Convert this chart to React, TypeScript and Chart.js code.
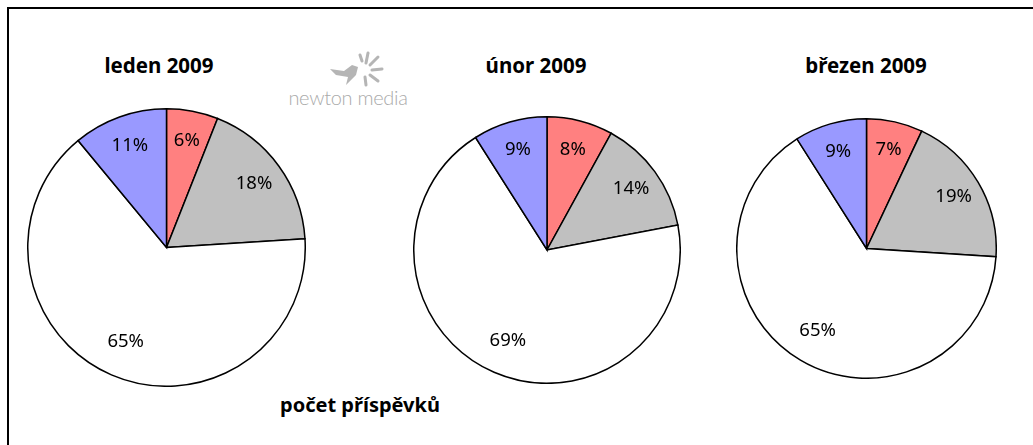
import React, { useEffect, useRef } from "react";
import { Chart, registerables } from "chart.js";

Chart.register(...registerables);

const categories = ["A", "B", "C", "D"];
const months = ["leden 2009", "únor 2009", "březen 2009"];
const janValues = [6, 18, 65, 11];
const febValues = [8, 14, 69, 9];
const marValues = [7, 19, 65, 9];
const sliceColors = ["#FF8080", "#C0C0C0", "#FFFFFF", "#9999FF"];
const footerText = "počet příspěvků";

const labelPlugin = {
  id: "pctLabels",
  afterDatasetsDraw(chart: any) {
    const ctx = chart.ctx;
    const meta = chart.getDatasetMeta(0);
    const data = chart.data.datasets[0].data as number[];
    const total = data.reduce((a: number, b: number) => a + b, 0);
    ctx.save();
    ctx.font = "18.5px 'Noto Sans'";
    ctx.fillStyle = "#000";
    ctx.textAlign = "center";
    ctx.textBaseline = "middle";
    meta.data.forEach((arc: any, i: number) => {
      const p = arc.getProps(["startAngle", "endAngle", "outerRadius", "x", "y"], true);
      const mid = (p.startAngle + p.endAngle) / 2;
      const big = data[i] / total > 0.5;
      const r = p.outerRadius * (big ? 0.74 : 0.78);
      const x = p.x + Math.cos(mid) * r;
      const y = p.y + Math.sin(mid) * r;
      ctx.fillText(Math.round((data[i] / total) * 100) + "%", x, y);
    });
    ctx.restore();
  },
};

function Pie({ values, left, top, size }: { values: number[]; left: number; top: number; size: number }) {
  const ref = useRef<HTMLCanvasElement | null>(null);
  useEffect(() => {
    if (!ref.current) return;
    const chart = new Chart(ref.current, {
      type: "pie",
      data: {
        labels: categories,
        datasets: [
          {
            data: values,
            backgroundColor: sliceColors,
            borderColor: "#000",
            borderWidth: 1.5,
            borderJoinStyle: "miter" as any,
          },
        ],
      },
      options: {
        responsive: false,
        animation: false,
        layout: { padding: 0 },
        plugins: { legend: { display: false }, tooltip: { enabled: false }, title: { display: false } },
      },
      plugins: [labelPlugin],
    });
    return () => chart.destroy();
  }, [values]);
  return (
    <canvas
      ref={ref}
      width={size}
      height={size}
      style={{ position: "absolute", left, top, width: size, height: size }}
    />
  );
}

const titleStyle = (cx: number, cy: number): React.CSSProperties => ({
  position: "absolute",
  left: cx - 150,
  width: 300,
  top: cy - 15,
  height: 30,
  lineHeight: "30px",
  textAlign: "center",
  fontFamily: "'Noto Sans', sans-serif",
  fontWeight: 700,
  fontSize: 20.5,
  color: "#000",
  whiteSpace: "nowrap",
});

export default function App() {
  return (
    <div style={{ position: "fixed", left: 0, top: 0, width: 1033, height: 445, overflow: "hidden", background: "#fff" }}>
      <div
        style={{
          position: "absolute",
          left: 7,
          top: 7,
          width: 1100,
          height: 500,
          borderLeft: "2.5px solid #000",
          borderTop: "2.5px solid #000",
        }}
      />
      <div style={titleStyle(159, 65)}>{months[0]}</div>
      <div style={titleStyle(536, 65)}>{months[1]}</div>
      <div style={titleStyle(866, 65)}>{months[2]}</div>
      <svg style={{ position: "absolute", left: 322, top: 47, width: 70, height: 45 }} viewBox="0 0 70 45">
        <path d="M8 22 L22 24 L30 18 L36 20 L34 28 L24 38 L26 30 L14 28 Z" fill="#b5b5b5" />
        <g stroke="#b5b5b5" strokeWidth="3" strokeLinecap="round">
          <line x1="44" y1="16" x2="46" y2="6" />
          <line x1="48" y1="18" x2="56" y2="10" />
          <line x1="50" y1="23" x2="60" y2="22" />
          <line x1="48" y1="28" x2="56" y2="34" />
          <line x1="43" y1="30" x2="44" y2="38" />
          <line x1="40" y1="14" x2="38" y2="8" />
        </g>
      </svg>
      <div
        style={{
          position: "absolute",
          left: 284,
          top: 84,
          width: 128,
          textAlign: "center",
          fontFamily: "Lato, sans-serif",
          fontWeight: 300,
          fontSize: 20,
          lineHeight: "26px",
          color: "#aaaaaa",
          letterSpacing: -0.3,
          whiteSpace: "nowrap",
        }}
      >
        newton media
      </div>
      <Pie values={janValues} left={27} top={108} size={279} />
      <Pie values={febValues} left={413} top={116} size={268} />
      <Pie values={marValues} left={736} top={118} size={261} />
      <div style={{ ...titleStyle(360, 405), fontSize: 20 }}>{footerText}</div>
    </div>
  );
}
